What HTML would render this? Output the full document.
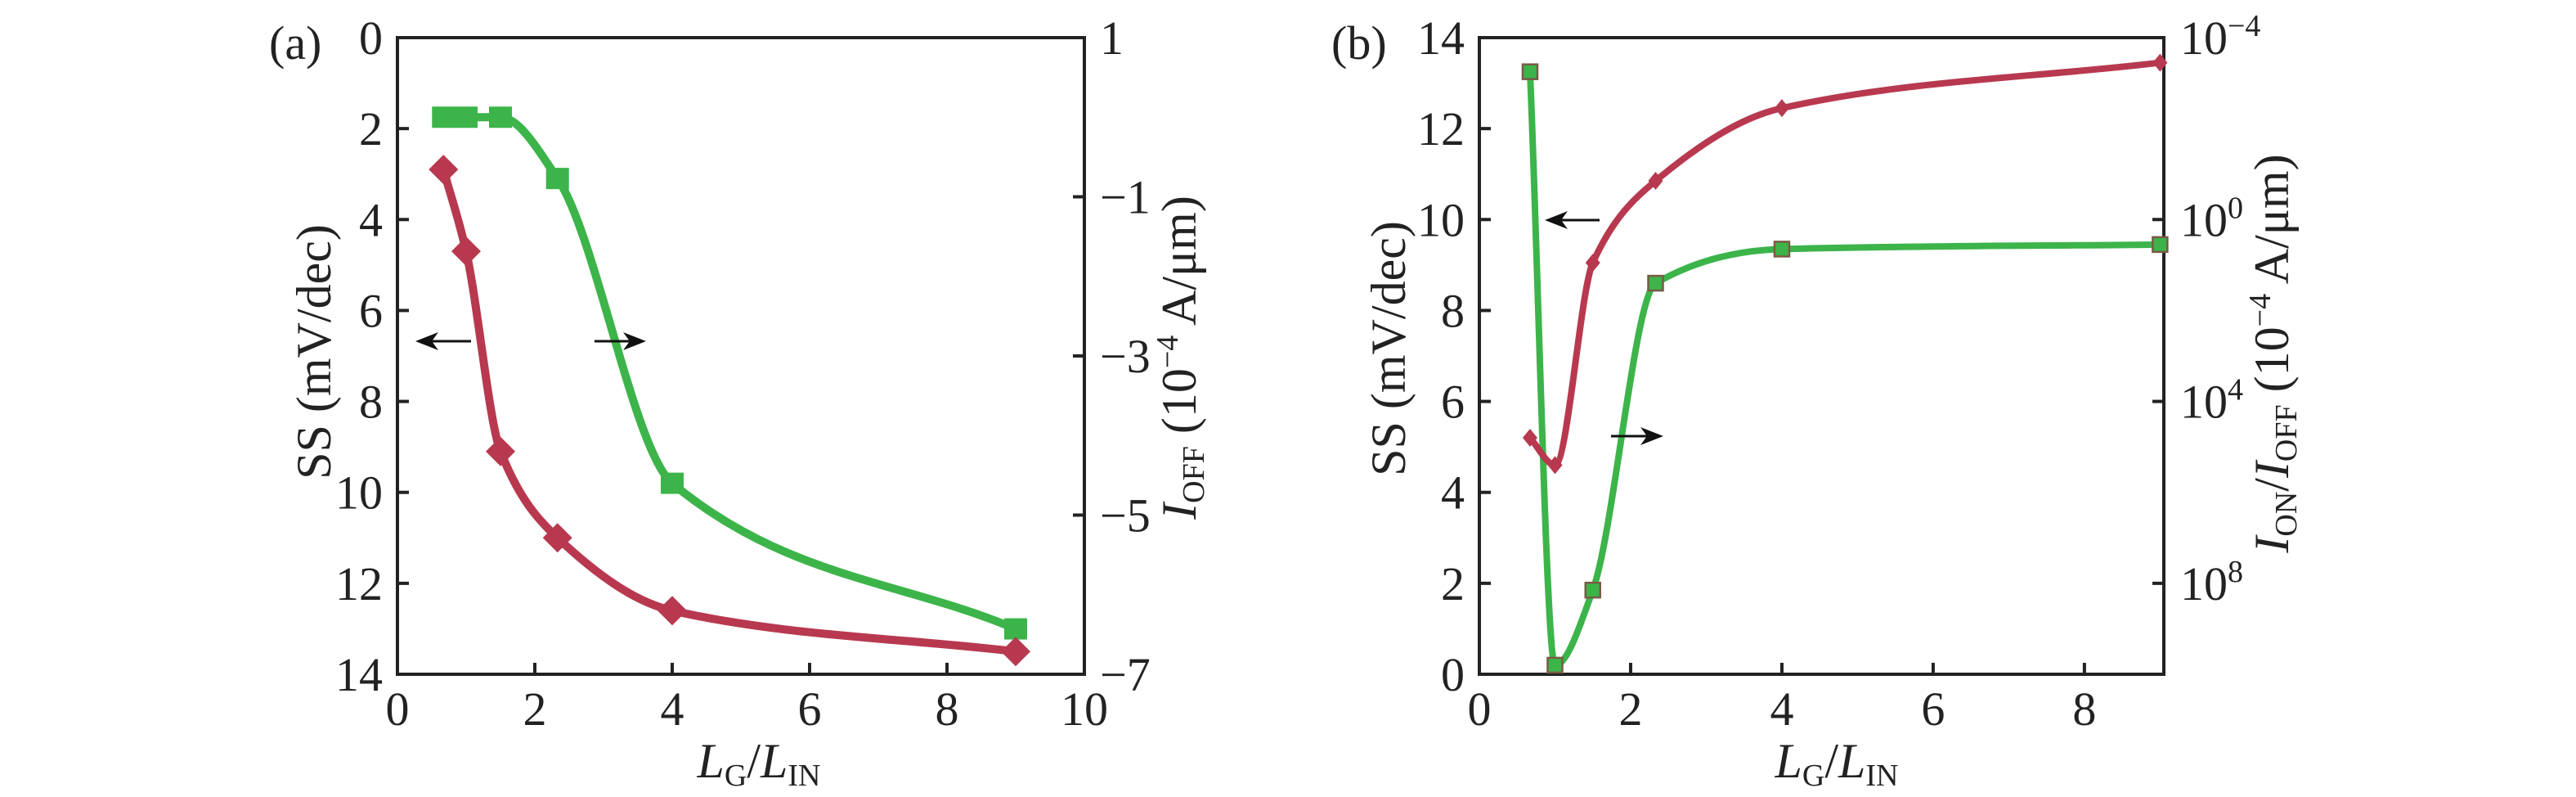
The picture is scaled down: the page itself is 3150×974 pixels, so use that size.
<!DOCTYPE html>
<html><head><meta charset="utf-8">
<style>
html,body{margin:0;padding:0;background:#fff;}
svg{display:block;}
svg text{font-family:"Liberation Serif","Times New Roman",Times,serif;}
</style></head>
<body>
<svg id="fig" width="3150" height="974" viewBox="0 0 3150 974" xmlns="http://www.w3.org/2000/svg">
<defs>
<clipPath id="clipB"><rect x="1809" y="46" width="837" height="778"/></clipPath>
</defs>
<g id="panelA"></g>
<g id="panelB"></g>
</svg>
<script>
// ---- Panel (a) data ----
const xA = [0.67, 1, 1.5, 2.33, 4, 9];
const ssA = [2.9, 4.7, 9.1, 11.0, 12.6, 13.5];
const ioffA = [0, 0, 0, -0.77, -4.6, -6.43];
const xTicksA = [0, 2, 4, 6, 8, 10];
const yTicksA = [0, 2, 4, 6, 8, 10, 12, 14];
const rTicksA = [1, -1, -3, -5, -7];
// ---- Panel (b) data ----
const xB = [0.67, 1, 1.5, 2.33, 4, 9];
const ssB = [5.2, 4.6, 9.05, 10.85, 12.45, 13.45];
const ratioExpB = [-3.25, 9.8, 8.15, 1.4, 0.65, 0.55];
const xTicksB = [0, 2, 4, 6, 8];
const yTicksB = [0, 2, 4, 6, 8, 10, 12, 14];
const rTicksB = [-4, 0, 4, 8];

const NS = "http://www.w3.org/2000/svg";
const RED = "#b8394f", GREEN = "#3cb44a";
const FONT = '"Liberation Serif", "Times New Roman", serif';
function mk(tag, attrs, parent) {
  const e = document.createElementNS(NS, tag);
  for (const k in attrs) e.setAttribute(k, attrs[k]);
  parent.appendChild(e);
  return e;
}
// PCHIP (weighted harmonic mean tangents) in pixel space
function pchip(pts) {
  const n = pts.length, h = [], m = [], t = [];
  for (let i = 0; i < n - 1; i++) { h.push(pts[i+1][0]-pts[i][0]); m.push((pts[i+1][1]-pts[i][1])/h[i]); }
  for (let i = 1; i < n - 1; i++) {
    if (m[i-1]*m[i] <= 0) { t[i] = 0; continue; }
    const w1 = 2*h[i] + h[i-1], w2 = h[i] + 2*h[i-1];
    t[i] = (w1 + w2) / (w1/m[i-1] + w2/m[i]);
  }
  t[0] = m[0]; t[n-1] = m[n-2];
  let d = "M" + pts[0][0] + "," + pts[0][1];
  for (let i = 0; i < n - 1; i++) {
    const k = h[i] / 3;
    d += ` C${pts[i][0]+k},${pts[i][1]+t[i]*k} ${pts[i+1][0]-k},${pts[i+1][1]-t[i+1]*k} ${pts[i+1][0]},${pts[i+1][1]}`;
  }
  return d;
}
function arrow(g, x1, x2, y, name) {
  const a = mk("g", {}, g);
  
  
  const dir = x2 > x1 ? 1 : -1;
  mk("line", {x1: x1, y1: y, x2: x2 - dir * 20, y2: y, stroke: "#111", "stroke-width": 3}, a);
  mk("path", {d: `M${x2},${y} L${x2 - dir * 28},${y - 11} L${x2 - dir * 20},${y} L${x2 - dir * 28},${y + 11} Z`, fill: "#111"}, a);
}
function frame(g, L, R, T, B) {
  const f = mk("path", {d: `M${L},${T} H${R} V${B} H${L} Z`, fill: "none", stroke: "#222", "stroke-width": 4}, g);
  
  
}
function text(g, x, y, str, anchor, name, size) {
  const t = mk("text", {x: x, y: y, "text-anchor": anchor, "font-size": size || 58, fill: "#222", "font-family": FONT}, g);
  t.innerHTML = str;
  
  
  return t;
}

// ================= Panel A =================
(function () {
  const g = document.getElementById("panelA");
  const L = 486, R = 1326, T = 46, B = 824;
  const sx = v => L + v / 10 * (R - L);
  const sy = v => T + v / 14 * (B - T);
  const sr = v => T + (1 - v) / 8 * (B - T);
  frame(g, L, R, T, B);
  xTicksA.forEach(v => {
    if (v > 0 && v < 10) {
      const tk = mk("line", {x1: sx(v), x2: sx(v), y1: B, y2: B - 14, stroke: "#222", "stroke-width": 4}, g);
      
      
    }
    text(g, sx(v), 886, v, "middle", "x-tick-label");
  });
  yTicksA.forEach(v => {
    if (v > 0 && v < 14) {
      const tk = mk("line", {x1: L, x2: L + 14, y1: sy(v), y2: sy(v), stroke: "#222", "stroke-width": 4}, g);
      
      
    }
    text(g, 468, sy(v) + 20, v, "end", "y-tick-label");
  });
  rTicksA.forEach(v => {
    if (v < 1 && v > -7) {
      const tk = mk("line", {x1: R, x2: R - 14, y1: sr(v), y2: sr(v), stroke: "#222", "stroke-width": 4}, g);
      
      
    }
    text(g, 1345, sr(v) + 20, v < 0 ? "\u2212" + (-v) : v, "start", "y2-tick-label");
  });
  const rp = xA.map((x, i) => [sx(x), sy(ssA[i])]);
  const gp = xA.map((x, i) => [sx(x), sr(ioffA[i])]);
  const gl = mk("path", {d: pchip(gp), fill: "none", stroke: GREEN, "stroke-width": 10, "stroke-linejoin": "round"}, g);
  
  
  const rl = mk("path", {d: pchip(rp), fill: "none", stroke: RED, "stroke-width": 10, "stroke-linejoin": "round"}, g);
  
  
  gp.forEach(p => {
    const m = mk("rect", {x: p[0] - 14, y: p[1] - 13, width: 28, height: 26, fill: GREEN}, g);
    
    
  });
  rp.forEach(p => {
    const m = mk("path", {d: `M${p[0]},${p[1] - 18} L${p[0] + 18},${p[1]} L${p[0]},${p[1] + 18} L${p[0] - 18},${p[1]} Z`, fill: RED}, g);
    
    
  });
  arrow(g, 576, 508, 417, "ss-axis-arrow");
  arrow(g, 727, 790, 417, "ioff-axis-arrow");
  text(g, 329, 72, "(a)", "start", "panel-a-label");
  const yl = text(g, 0, 0, "SS (mV/dec)", "middle", "y-axis-title", 60);
  yl.setAttribute("transform", "translate(404,430) rotate(-90)");
  const y2 = text(g, 0, 0, '<tspan font-style="italic">I</tspan><tspan font-size="38" dy="10">OFF</tspan><tspan dy="-10"> (10</tspan><tspan font-size="38" dy="-22">\u22124</tspan><tspan dy="22"> A/\u03bcm)</tspan>', "middle", "y2-axis-title", 60);
  y2.setAttribute("transform", "translate(1462,437) rotate(-90)");
  text(g, 928, 950, '<tspan font-style="italic">L</tspan><tspan font-size="38" dy="10">G</tspan><tspan dy="-10">/</tspan><tspan font-style="italic">L</tspan><tspan font-size="38" dy="10">IN</tspan>', "middle", "x-axis-title", 60);
})();

// ================= Panel B =================
(function () {
  const g = document.getElementById("panelB");
  const L = 1809, R = 2646, T = 46, B = 824;
  const XMAX = 9.05;
  const sx = v => L + v / XMAX * (R - L);
  const sy = v => B - v / 14 * (B - T);
  const sr = e => sy(10 - e);
  frame(g, L, R, T, B);
  xTicksB.forEach(v => {
    if (v > 0) {
      const tk = mk("line", {x1: sx(v), x2: sx(v), y1: B, y2: B - 14, stroke: "#222", "stroke-width": 4}, g);
      
      
    }
    text(g, sx(v), 886, v, "middle", "x-tick-label");
  });
  yTicksB.forEach(v => {
    if (v > 0 && v < 14) {
      const tk = mk("line", {x1: L, x2: L + 14, y1: sy(v), y2: sy(v), stroke: "#222", "stroke-width": 4}, g);
      
      
    }
    text(g, 1791, sy(v) + 20, v, "end", "y-tick-label");
  });
  rTicksB.forEach(e => {
    if (e > -4) {
      const tk = mk("line", {x1: R, x2: R - 14, y1: sr(e), y2: sr(e), stroke: "#222", "stroke-width": 4}, g);
      
      
    }
    text(g, 2666, sr(e) + 20, '10<tspan font-size="38" dy="-22">' + (e < 0 ? "\u2212" + (-e) : e) + '</tspan>', "start", "y2-tick-label");
  });
  const cl = mk("g", {"clip-path": "url(#clipB)"}, g);
  const rp = xB.map((x, i) => [sx(x), sy(ssB[i])]);
  const gp = xB.map((x, i) => [sx(x), sr(ratioExpB[i])]);
  const gl = mk("path", {d: pchip(gp), fill: "none", stroke: GREEN, "stroke-width": 8, "stroke-linejoin": "round"}, cl);
  
  
  const rl = mk("path", {d: pchip(rp), fill: "none", stroke: RED, "stroke-width": 8, "stroke-linejoin": "round"}, cl);
  
  
  rp.forEach(p => {
    const m = mk("path", {d: `M${p[0]},${p[1] - 11} L${p[0] + 9},${p[1]} L${p[0]},${p[1] + 11} L${p[0] - 9},${p[1]} Z`, fill: RED}, g);
    
    
  });
  gp.forEach(p => {
    const m = mk("rect", {x: p[0] - 9, y: p[1] - 9, width: 18, height: 18, fill: GREEN, stroke: "#7a5a44", "stroke-width": 2.5}, g);
    
    
  });
  arrow(g, 1956, 1889, 269, "ss-axis-arrow");
  arrow(g, 1970, 2034, 533, "ratio-axis-arrow");
  text(g, 1628, 72, "(b)", "start", "panel-b-label");
  const yl = text(g, 0, 0, "SS (mV/dec)", "middle", "y-axis-title", 60);
  yl.setAttribute("transform", "translate(1718,426) rotate(-90)");
  const y2 = text(g, 0, 0, '<tspan font-style="italic">I</tspan><tspan font-size="38" dy="10">ON</tspan><tspan dy="-10">/</tspan><tspan font-style="italic">I</tspan><tspan font-size="38" dy="10">OFF</tspan><tspan dy="-10"> (10</tspan><tspan font-size="38" dy="-22">\u22124</tspan><tspan dy="22"> A/\u03bcm)</tspan>', "middle", "y2-axis-title", 60);
  y2.setAttribute("transform", "translate(2798,432) rotate(-90)");
  text(g, 2246, 950, '<tspan font-style="italic">L</tspan><tspan font-size="38" dy="10">G</tspan><tspan dy="-10">/</tspan><tspan font-style="italic">L</tspan><tspan font-size="38" dy="10">IN</tspan>', "middle", "x-axis-title", 60);
})();
</script>
</body></html>
